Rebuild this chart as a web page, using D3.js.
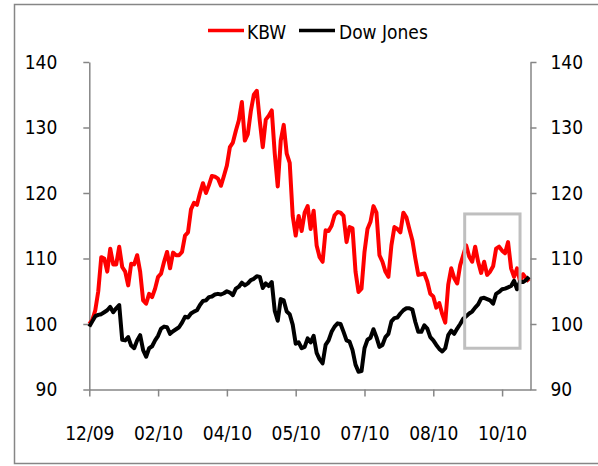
<!DOCTYPE html>
<html>
<head>
<meta charset="utf-8">
<script src="https://cdn.jsdelivr.net/npm/d3@7"></script>
<style>
  html, body { margin: 0; padding: 0; background: #fff; }
  svg { display: block; }
  text { font-family: "Liberation Sans Narrow", "DejaVu Sans Condensed", "Arial Narrow", sans-serif; fill: #000; }
</style>
</head>
<body>
<svg id="chart" width="598" height="466"></svg>
<script>
// Index levels, start of period = 100, one sample per trading step
const kbw = [
  100, 100.6, 102.1, 105, 110.2, 110, 108, 111.5, 109.1, 109.1,
  111.8, 108.7, 108, 105.9, 109.2, 109.1, 110.5, 108, 103.6, 103.1,
  104.6, 104.1, 105.4, 107.2, 107.7, 109.5, 111, 108.5, 110.9, 110.5,
  110.5, 111, 113.5, 114, 117.5, 118.5, 118.2, 120, 121.5, 120,
  121.2, 122.6, 122.5, 122.2, 121.1, 122.6, 124.2, 127, 127.7, 129.5,
  131.1, 133.9, 128, 129, 132.5, 135, 135.6, 131, 127, 131.2,
  131.8, 132.6, 126, 121, 128, 130.4, 126, 124.6, 116.5, 113.5,
  116.5, 114.2, 117, 118, 114.5, 117.3, 112, 110.2, 109.5, 114.3,
  114.2, 115, 116.6, 117.1, 117, 116.5, 112.5, 114.8, 114.6, 108,
  104.9, 105.4, 111, 114.5, 115.6, 118, 117, 110.5, 109.5, 108,
  107.2, 112, 114.8, 114.5, 114, 117, 116.3, 114.5, 112.8, 110,
  107.5, 107.6, 107.7, 106.5, 104.6, 104.2, 102.5, 103.2, 101.5, 100.2,
  106, 108.5, 107, 106.2, 109, 110.5, 112, 110.3, 109.5, 111.8,
  109.5, 107.8, 109.5, 107.5, 108, 108.8, 111.5, 111.8, 111.2, 110.8,
  112.5, 108.5, 107.2, 108.5, 106.5, 107.6, 107, 106.5
];

const dowJones = [
  99.6, 100.4, 101.2, 101.4, 101.5, 101.8, 102.1, 102.6, 101.8, 102.4,
  102.9, 97.6, 97.5, 98, 96.7, 96.3, 97.5, 98.3, 96, 95,
  96.3, 96.6, 97.5, 98.2, 99.3, 99.6, 99.5, 98.5, 98.9, 99.2,
  99.5, 100.2, 101.1, 101, 101.6, 101.9, 102.1, 102.9, 103.5, 103.6,
  104.1, 104.2, 104.5, 104.6, 104.5, 104.7, 105, 104.8, 104.4, 105.4,
  105.7, 106.3, 105.9, 106.2, 106.7, 106.9, 107.3, 107.2, 105.5, 106.2,
  105.8, 106.4, 102, 100.5, 103.8, 103.6, 101.9, 101.5, 99.9, 97,
  97.2, 96.3, 96.5, 97.8, 97.2, 98.2, 95.6, 94.6, 94, 96.8,
  97.5, 98.8, 99.6, 100.1, 100, 98.8, 97.5, 97.3, 96, 93.8,
  92.7, 92.8, 96.3, 97.6, 97.9, 99.2, 98, 96.5, 96.8, 98,
  98.5, 100.4, 100.9, 101, 101.6, 102.1, 102.4, 102.4, 102.2, 100.3,
  98.8, 98.8, 99.8, 99.3, 98, 97.5, 96.8, 96.2, 95.8, 96.3,
  98.3, 99, 98.5, 99.3, 100, 100.8, 101.2, 101.6, 101.9, 102.5,
  103, 103.9, 104, 103.8, 103.6, 103.1, 104.6, 104.9, 105.3, 105.4,
  105.6, 105.8, 106.6, 105.3, 106.5, 106.4, 106.7, 107.2
];

// Date labels, one every 23 samples
const dateLabels = ["12/09", "02/10", "04/10", "05/10", "07/10", "08/10", "10/10"];
const labelStep = 23;
const yTicks = [90, 100, 110, 120, 130, 140];

// Recent window marked with a box (sample index range, index level range)
const windowIdx = [125.5, 144];
const windowLevel = [96.3, 116.8];

const seriesNames = ["KBW", "Dow Jones"];
const seriesColors = ["#ff0000", "#000000"];

const svg = d3.select("#chart");
const axisColor = "#868686";

const x = d3.scaleLinear().domain([0, kbw.length - 0.5]).range([89.3, 530.5]);
const y = d3.scaleLinear().domain([90, 140]).range([389.5, 62]);

// outer frame
svg.append("rect")
  .attr("x", 14.5).attr("y", 4.5)
  .attr("width", 600).attr("height", 459)
  .attr("fill", "none").attr("stroke", axisColor).attr("stroke-width", 1.5);

const fontSize = 19;

function styleAxis(g) {
  g.selectAll("path, line").attr("stroke", axisColor).attr("stroke-width", 1.5);
  g.selectAll("text").attr("font-size", fontSize).attr("fill", "#000")
    .attr("font-family", '"Liberation Sans Narrow", "DejaVu Sans Condensed", sans-serif');
}

// left axis
const leftAxis = d3.axisLeft(y).tickValues(yTicks).tickSize(6).tickSizeOuter(0).tickPadding(26);
svg.append("g").attr("transform", `translate(${x.range()[0]},0)`).call(leftAxis).call(styleAxis);

// right axis
const rightAxis = d3.axisRight(y).tickValues(yTicks).tickSize(6).tickSizeOuter(0).tickPadding(14);
svg.append("g").attr("transform", `translate(${x.range()[1]},0)`).call(rightAxis).call(styleAxis)
  .selectAll("text").attr("text-anchor", "start");

// bottom axis
const tickIdx = dateLabels.map((d, i) => i * labelStep);
const bottomAxis = d3.axisBottom(x).tickValues(tickIdx)
  .tickFormat((d, i) => dateLabels[i]).tickSize(7).tickSizeOuter(0).tickPadding(30);
svg.append("g").attr("transform", `translate(0,${y.range()[0]})`).call(bottomAxis).call(styleAxis);

// series lines
const line = d3.line().x((d, i) => x(i)).y(d => y(d)).curve(d3.curveLinear);
[kbw, dowJones].forEach((vals, s) => {
  svg.append("path")
    .datum(vals)
    .attr("fill", "none")
    .attr("stroke", seriesColors[s])
    .attr("stroke-width", 4)
    .attr("stroke-linejoin", "round")
    .attr("d", line);
});

// highlight box
svg.append("rect")
  .attr("x", x(windowIdx[0]))
  .attr("y", y(windowLevel[1]))
  .attr("width", x(windowIdx[1]) - x(windowIdx[0]))
  .attr("height", y(windowLevel[0]) - y(windowLevel[1]))
  .attr("fill", "none").attr("stroke", "#bfbfbf").attr("stroke-width", 3);

// legend
const legendItems = [
  { x0: 208, x1: 244, tx: 247 },
  { x0: 299, x1: 335, tx: 339 }
];
const legend = svg.append("g");
legendItems.forEach((it, s) => {
  legend.append("line")
    .attr("x1", it.x0).attr("x2", it.x1).attr("y1", 30.5).attr("y2", 30.5)
    .attr("stroke", seriesColors[s]).attr("stroke-width", 3.5);
  legend.append("text")
    .attr("x", it.tx).attr("y", 38.5)
    .attr("font-size", fontSize)
    .text(seriesNames[s]);
});
</script>
</body>
</html>
